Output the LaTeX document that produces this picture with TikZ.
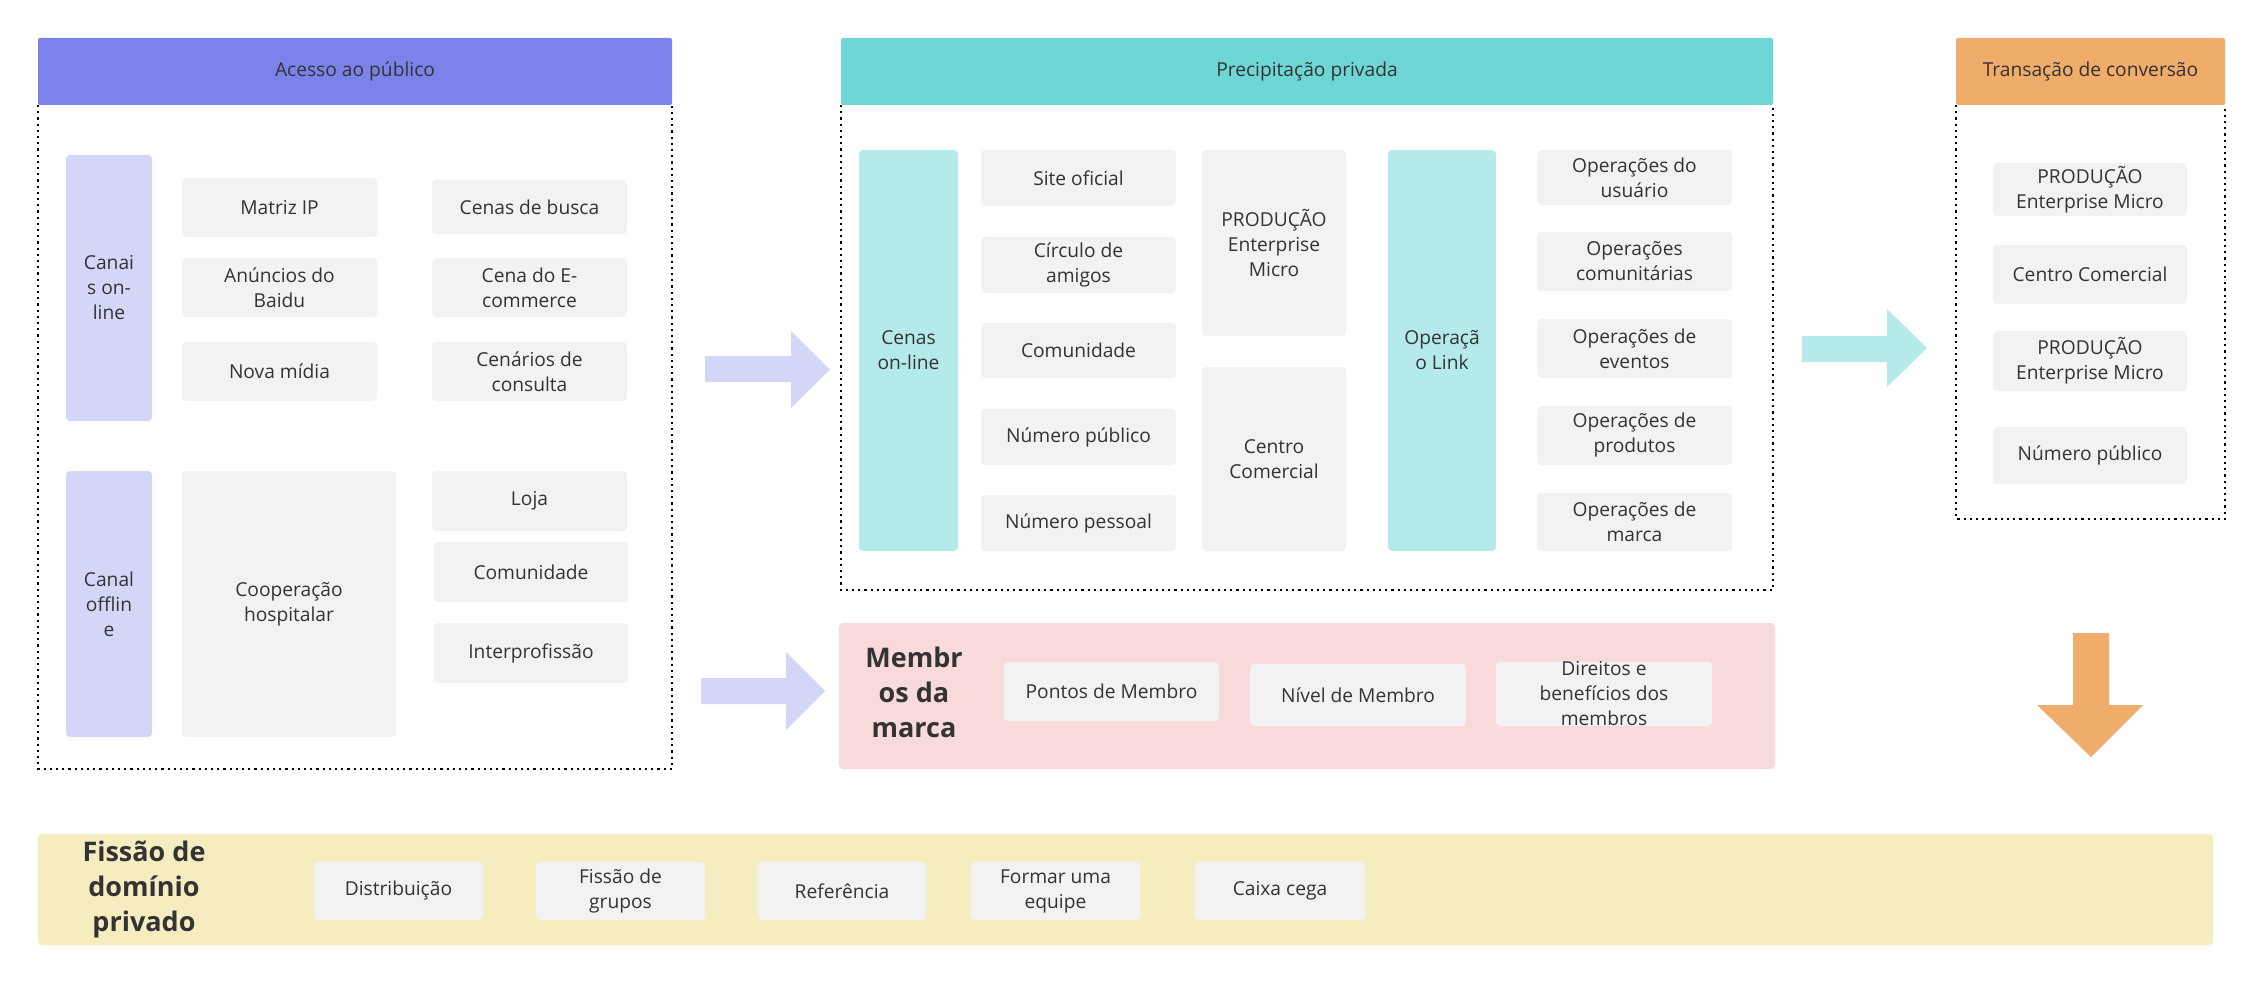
\documentclass[tikz,border=0pt]{standalone}
\usepackage{fontspec}
\setmainfont{Open Sans}
\definecolor{hdblue}{HTML}{7B83EB}
\definecolor{lav}{HTML}{D4D6F8}
\definecolor{boxgray}{HTML}{F2F2F2}
\definecolor{hdteal}{HTML}{6FD6D6}
\definecolor{ltteal}{HTML}{B5EAEA}
\definecolor{hdorange}{HTML}{F0AC6A}
\definecolor{pinkbg}{HTML}{F8DADA}
\definecolor{yellowbg}{HTML}{F5ECC0}
\definecolor{txt}{HTML}{333333}
\newcommand\blk[7]{\node[#6, minimum width={(#4-#2)*0.5pt}, minimum height={(#5-#3)*0.5pt}] (#1) at ({(#2+#4)/2},{(#3+#5)/2}) {#7};}
\begin{document}
\begin{tikzpicture}[x=0.5pt, y=-0.5pt]
\tikzset{ >=latex, inner sep=0pt, outer sep=0pt,
  every node/.style={text=txt, font=\fontsize{9.6}{12.5}\selectfont, align=center},
  gbox/.style={fill=boxgray, rounded corners=2pt},
  lbar/.style={fill=lav, rounded corners=2pt},
  tbar/.style={fill=ltteal, rounded corners=2pt},
  frame/.style={dotted, line width=1.1pt, black},
  title/.style={font=\fontsize{13.5}{17.5}\selectfont\bfseries},
}
\useasboundingbox (0,0) rectangle (2262,984);

% panel frames
\draw [frame] (38,105) -- (38,769) -- (672,769) -- (672,105);
\draw [frame] (841,105) -- (841,590) -- (1773,590) -- (1773,105);
\draw [frame] (1956,105) -- (1956,519) -- (2225,519) -- (2225,105);

% headers
\blk{hpub}{38}{38}{672}{105}{fill=hdblue, rounded corners=1pt}{Acesso ao público}
\blk{hpriv}{841}{38}{1773}{105}{fill=hdteal, rounded corners=1pt}{Precipitação privada}
\blk{hconv}{1956}{38}{2225}{105}{fill=hdorange, rounded corners=1pt}{Transação de conversão}

% public access
\blk{online}{66}{155}{152}{421}{lbar}{Canai\\s on-\\line}
\blk{matriz}{182}{178}{377}{237}{gbox}{Matriz IP}
\blk{baidu}{182}{258}{377}{317}{gbox}{Anúncios do\\Baidu}
\blk{midia}{182}{342}{377}{401}{gbox}{Nova mídia}
\blk{busca}{432}{180}{627}{234}{gbox}{Cenas de busca}
\blk{ecom}{432}{258}{627}{317}{gbox}{Cena do E-\\commerce}
\blk{consulta}{432}{342}{627}{401}{gbox}{Cenários de\\consulta}
\blk{offline}{66}{471}{152}{737}{lbar}{Canal\\offlin\\e}
\blk{hosp}{182}{471}{396}{737}{gbox}{Cooperação\\hospitalar}
\blk{loja}{432}{471}{627}{531}{gbox}{Loja}
\blk{comun}{434}{542}{628}{602}{gbox}{Comunidade}
\blk{inter}{434}{623}{628}{683}{gbox}{Interprofissão}

% private precipitation
\blk{cenas}{859}{150}{958}{551}{tbar}{Cenas\\on-line}
\blk{site}{981}{150}{1176}{206}{gbox}{Site oficial}
\blk{circulo}{981}{237}{1176}{293}{gbox}{Círculo de\\amigos}
\blk{comun2}{981}{323}{1176}{378}{gbox}{Comunidade}
\blk{numpub}{981}{409}{1176}{465}{gbox}{Número público}
\blk{numpes}{981}{495}{1176}{551}{gbox}{Número pessoal}
\blk{prod}{1202}{150}{1346}{336}{gbox}{PRODUÇÃO\\Enterprise\\Micro}
\blk{centro}{1202}{367}{1346}{551}{gbox}{Centro\\Comercial}
\blk{link}{1388}{150}{1496}{551}{tbar}{Operaçã\\o Link}
\blk{opuser}{1537}{150}{1732}{205}{gbox}{Operações do\\usuário}
\blk{opcom}{1537}{232}{1732}{291}{gbox}{Operações\\comunitárias}
\blk{opev}{1537}{319}{1732}{378}{gbox}{Operações de\\eventos}
\blk{opprod}{1537}{406}{1732}{465}{gbox}{Operações de\\produtos}
\blk{opmarca}{1537}{493}{1732}{551}{gbox}{Operações de\\marca}

% conversion
\blk{cprod}{1993}{163}{2187}{216}{gbox}{PRODUÇÃO\\Enterprise Micro}
\blk{ccentro}{1993}{245}{2187}{304}{gbox}{Centro Comercial}
\blk{cprod2}{1993}{331}{2187}{391}{gbox}{PRODUÇÃO\\Enterprise Micro}
\blk{cnum}{1993}{427}{2187}{484}{gbox}{Número público}

% brand members
\blk{membg}{839}{623}{1775}{769}{fill=pinkbg, rounded corners=2pt}{}
\node [title] (memt) at (914,692) {Membr\\os da\\marca};
\blk{pontos}{1004}{662}{1219}{721}{gbox}{Pontos de Membro}
\blk{nivel}{1250}{664}{1466}{726}{gbox}{Nível de Membro}
\blk{direitos}{1496}{665}{1712}{723}{gbox}{Direitos e\\benefícios dos\\membros}

% private domain fission
\blk{fisbg}{38}{834}{2213}{945}{fill=yellowbg, rounded corners=2pt}{}
\node [title] (fist) at (144,889) {Fissão de\\domínio\\privado};
\blk{distr}{314}{862}{483}{920}{gbox}{Distribuição}
\blk{grupos}{536}{862}{705}{920}{gbox}{Fissão de\\grupos}
\blk{refer}{758}{862}{926}{920}{gbox}{Referência}
\blk{equipe}{971}{862}{1140}{920}{gbox}{Formar uma\\equipe}
\blk{caixa}{1195}{862}{1365}{920}{gbox}{Caixa cega}

% block arrows
\fill [lav] (705,356) -- (791,356) -- (791,331) -- (830,369.5) -- (791,408) -- (791,382) -- (705,382) -- cycle;
\fill [lav] (701,678) -- (786,678) -- (786,652) -- (825,691) -- (786,730) -- (786,704) -- (701,704) -- cycle;
\fill [ltteal] (1802,336) -- (1887,336) -- (1887,309) -- (1927,348) -- (1887,387) -- (1887,362) -- (1802,362) -- cycle;
\fill [hdorange] (2073,633) -- (2109,633) -- (2109,705) -- (2143,705) -- (2091,757) -- (2037,705) -- (2073,705) -- cycle;
\end{tikzpicture}
\end{document}
